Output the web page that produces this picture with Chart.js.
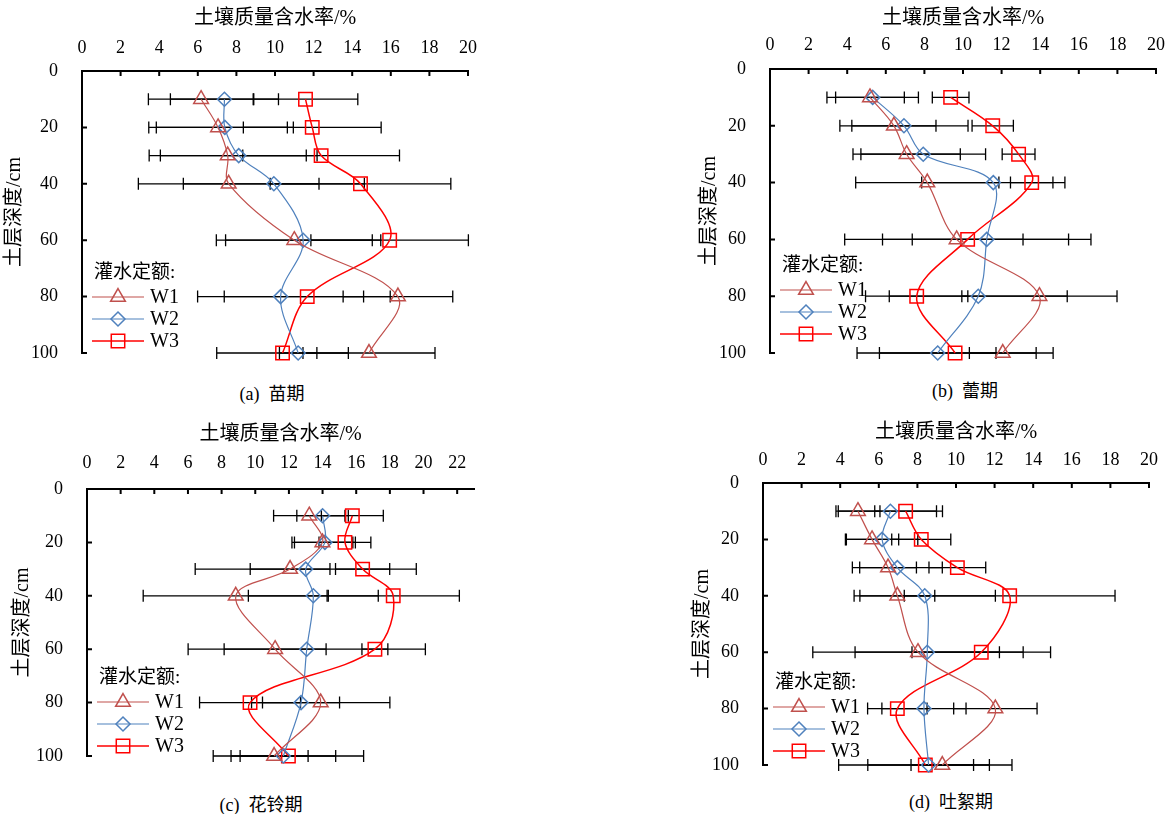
<!DOCTYPE html>
<html>
<head>
<meta charset="utf-8">
<script src="https://cdn.jsdelivr.net/npm/chart.js@4.4.1/dist/chart.umd.min.js"></script>
<style>
  body { margin: 0; background: #fff; }
  #page { position: relative; width: 1175px; height: 814px; overflow: hidden; }
  .box { position: absolute; }
  .cap { position: absolute; font-size: 18px; font-family: 'Liberation Serif', 'Noto Sans CJK SC'; transform: translate(-50%, -50%); white-space: nowrap; color: #000; }
</style>
</head>
<body>
<div id="page">
  <div class="box" style="left:0;top:0"><canvas id="cA"></canvas></div>
  <div class="box" style="left:690px;top:0"><canvas id="cB"></canvas></div>
  <div class="box" style="left:0;top:415px"><canvas id="cC"></canvas></div>
  <div class="box" style="left:685px;top:415px"><canvas id="cD"></canvas></div>
  <div class="cap" style="left:272px;top:392px">(a)&nbsp; 苗期</div>
  <div class="cap" style="left:965px;top:389px">(b)&nbsp; 蕾期</div>
  <div class="cap" style="left:261px;top:803px">(c)&nbsp; 花铃期</div>
  <div class="cap" style="left:951px;top:800px">(d)&nbsp; 吐絮期</div>
</div>
<script>
// 土层深度 (cm) 和刻度
const depth = [10, 20, 30, 40, 60, 80, 100];
const depthTicks = [0, 20, 40, 60, 80, 100];
const moistTicks20 = [0, 2, 4, 6, 8, 10, 12, 14, 16, 18, 20];
const moistTicks22 = [0, 2, 4, 6, 8, 10, 12, 14, 16, 18, 20, 22];
const seriesNames = ['W1', 'W2', 'W3'];

// (a) 苗期
const a_W1 = [6.17, 7.05, 7.55, 7.6, 11.0, 16.37, 14.87];
const a_W1_err = [2.73, 3.59, 4.07, 4.68, 4.04, 2.84, 3.42];
const a_W2 = [7.38, 7.4, 8.12, 9.94, 11.46, 10.29, 11.2];
const a_W2_err = [2.8, 3.55, 4.06, 4.69, 4.02, 4.3, 0.97];
const a_W3 = [11.58, 11.93, 12.39, 14.43, 15.94, 11.67, 10.39];
const a_W3_err = [2.71, 3.57, 4.06, 4.68, 4.08, 4.3, 3.41];

// (b) 蕾期
const b_W1 = [5.18, 6.42, 7.08, 8.15, 9.67, 13.96, 12.06];
const b_W1_err = [1.78, 2.18, 2.78, 3.71, 5.8, 4.02, 1.73];
const b_W2 = [5.32, 6.94, 7.94, 11.57, 11.23, 10.79, 8.69];
const b_W2_err = [2.37, 3.32, 3.23, 3.71, 5.4, 4.61, 3.02];
const b_W3 = [9.36, 11.54, 12.88, 13.56, 10.24, 7.6, 9.59];
const b_W3_err = [0.95, 1.07, 0.85, 1.1, 2.87, 2.65, 5.08];

// (c) 花铃期
const c_W1 = [13.21, 13.99, 12.07, 8.84, 11.18, 13.89, 11.12];
const c_W1_err = [2.12, 1.81, 2.37, 5.5, 3.03, 4.11, 2.02];
const c_W2 = [14.0, 14.14, 13.0, 13.45, 13.06, 12.72, 11.67];
const c_W2_err = [1.53, 1.81, 6.57, 3.86, 7.05, 2.29, 3.11];
const c_W3 = [15.77, 15.33, 16.38, 18.2, 17.11, 9.69, 11.97];
const c_W3_err = [1.84, 1.54, 1.61, 3.93, 0.77, 3.0, 4.47];

// (d) 吐絮期
const d_W1 = [4.92, 5.65, 6.48, 6.96, 8.03, 12.04, 9.29];
const d_W1_err = [1.14, 1.38, 1.47, 1.94, 5.45, 2.16, 1.62];
const d_W2 = [6.6, 6.17, 6.96, 8.38, 8.51, 8.34, 8.58];
const d_W2_err = [2.7, 1.85, 2.33, 3.66, 3.74, 2.18, 3.15];
const d_W3 = [7.39, 8.2, 10.07, 12.78, 11.31, 6.96, 8.41];
const d_W3_err = [1.6, 1.53, 1.47, 5.46, 3.59, 1.54, 4.49];

const styles = [
    { color: '#C0504D', point: 'triangle', r: 8.5, lw: 1.2 },
    { color: '#4F81BD', point: 'rectRot', r: 7, lw: 1.2 },
    { color: '#FF0000', point: 'rect', r: 9.5, lw: 1.5 }
];
const latin = "'Liberation Serif'";
const mixed = "'Liberation Serif', 'Noto Sans CJK SC'";

// 误差棒
const errorBars = {
    id: 'errorBars',
    beforeDatasetsDraw(chart) {
        const ctx = chart.ctx;
        const xs = chart.scales.x, ys = chart.scales.y;
        ctx.save();
        ctx.strokeStyle = '#000';
        ctx.lineWidth = 1.3;
        chart.data.datasets.forEach(ds => {
            ds.data.forEach((p, i) => {
                const e = ds.errors[i];
                const x1 = xs.getPixelForValue(p.x - e);
                const x2 = xs.getPixelForValue(p.x + e);
                const y = ys.getPixelForValue(p.y);
                ctx.beginPath();
                ctx.moveTo(x1, y); ctx.lineTo(x2, y);
                ctx.moveTo(x1, y - 6); ctx.lineTo(x1, y + 6);
                ctx.moveTo(x2, y - 6); ctx.lineTo(x2, y + 6);
                ctx.stroke();
            });
        });
        ctx.restore();
    }
};

// 内侧刻度线
const innerTicks = {
    id: 'innerTicks',
    afterDraw(chart) {
        const ctx = chart.ctx;
        const a = chart.chartArea;
        ctx.save();
        ctx.strokeStyle = '#000';
        ctx.lineWidth = 2;
        ctx.beginPath();
        chart.scales.x.ticks.forEach(t => {
            const x = chart.scales.x.getPixelForValue(t.value);
            ctx.moveTo(x, a.top); ctx.lineTo(x, a.top + 5);
        });
        chart.scales.y.ticks.forEach(t => {
            const y = chart.scales.y.getPixelForValue(t.value);
            ctx.moveTo(a.left, y); ctx.lineTo(a.left + 5, y);
        });
        ctx.stroke();
        ctx.restore();
    }
};

function marker(ctx, type, x, y, r) {
    ctx.beginPath();
    if (type === 'triangle') {
        ctx.moveTo(x, y - r);
        ctx.lineTo(x + r * 0.866, y + r / 2);
        ctx.lineTo(x - r * 0.866, y + r / 2);
        ctx.closePath();
    } else if (type === 'rectRot') {
        ctx.moveTo(x, y - r); ctx.lineTo(x + r, y);
        ctx.lineTo(x, y + r); ctx.lineTo(x - r, y);
        ctx.closePath();
    } else {
        const s = r * Math.SQRT1_2;
        ctx.rect(x - s, y - s, 2 * s, 2 * s);
    }
    ctx.stroke();
}

// 图例 (放在绘图区左下角)
const legendBox = {
    id: 'legendBox',
    afterDraw(chart, args, opts) {
        const ctx = chart.ctx;
        const a = chart.chartArea;
        const dy = opts.dy || 0;
        ctx.save();
        ctx.fillStyle = '#000';
        ctx.textBaseline = 'middle';
        ctx.font = "19px " + mixed;
        ctx.fillText('灌水定额:', a.left + 12, a.bottom - 80 + dy);
        [-56, -34, -12].forEach((off, i) => {
            const y = a.bottom + off + dy;
            const st = styles[i];
            ctx.strokeStyle = st.color;
            ctx.lineWidth = st.lw;
            ctx.beginPath();
            ctx.moveTo(a.left + 10, y); ctx.lineTo(a.left + 62, y);
            ctx.stroke();
            ctx.lineWidth = 1.5;
            marker(ctx, st.point, a.left + 36, y, st.r);
            ctx.fillStyle = '#000';
            ctx.font = "20px " + latin;
            ctx.fillText(seriesNames[i], a.left + 68, y + 1);
        });
        ctx.restore();
    }
};

function makePanel(id, box, area, xMax, xTicks, tickY, titleY, yTitleX, legendDy, sets) {
    const canvas = document.getElementById(id);
    canvas.width = box.w;
    canvas.height = box.h;
    const datasets = sets.map((s, i) => ({
        label: seriesNames[i],
        data: depth.map((d, k) => ({ x: s.v[k], y: d })),
        errors: s.e,
        showLine: true,
        tension: 0.35,
        borderColor: styles[i].color,
        borderWidth: styles[i].lw,
        pointStyle: styles[i].point,
        pointRadius: styles[i].r,
        pointBorderWidth: 1.5,
        pointBorderColor: styles[i].color,
        pointBackgroundColor: 'rgba(0,0,0,0)',
        clip: false
    }));
    return new Chart(canvas, {
        type: 'scatter',
        data: { datasets: datasets },
        options: {
            responsive: false,
            animation: false,
            events: [],
            layout: {
                autoPadding: false,
                padding: { left: 0, top: 0, right: box.x + box.w - area.r, bottom: box.y + box.h - area.b }
            },
            plugins: {
                legend: { display: false },
                tooltip: { enabled: false },
                legendBox: { dy: legendDy }
            },
            scales: {
                x: {
                    type: 'linear',
                    position: 'top',
                    min: 0,
                    max: xMax,
                    afterBuildTicks: s => { s.ticks = xTicks.map(v => ({ value: v })); },
                    afterFit: s => {
                        s.height = area.t - box.y;
                        s.paddingLeft = 0; s.paddingRight = 0;
                    },
                    grid: { display: false, drawTicks: false },
                    border: { display: true, color: '#000', width: 2 },
                    ticks: {
                        autoSkip: false, maxRotation: 0,
                        padding: area.t - tickY - 10.8,
                        color: '#000',
                        font: { family: latin, size: 18 }
                    },
                    title: {
                        display: true,
                        text: '土壤质量含水率/%',
                        color: '#000',
                        font: { family: mixed, size: 20 },
                        padding: { top: titleY - box.y - 11, bottom: 0 }
                    }
                },
                y: {
                    type: 'linear',
                    reverse: true,
                    min: 0,
                    max: 100,
                    afterBuildTicks: s => { s.ticks = depthTicks.map(v => ({ value: v })); },
                    afterFit: s => {
                        s.width = area.l - box.x;
                        s.paddingTop = 0; s.paddingBottom = 0;
                    },
                    grid: { display: false, drawTicks: false },
                    border: { display: true, color: '#000', width: 2 },
                    ticks: {
                        autoSkip: false,
                        padding: 24,
                        color: '#000',
                        font: { family: latin, size: 18 }
                    },
                    title: {
                        display: true,
                        text: '土层深度/cm',
                        color: '#000',
                        font: { family: mixed, size: 20 },
                        padding: { top: yTitleX - box.x - 9, bottom: 0 }
                    }
                }
            }
        },
        plugins: [errorBars, innerTicks, legendBox]
    });
}

makePanel('cA', { x: 0, y: 0, w: 587, h: 372 }, { l: 82, t: 71, r: 468, b: 353 }, 20, moistTicks20, 48, 18, 12, 0,
    [{ v: a_W1, e: a_W1_err }, { v: a_W2, e: a_W2_err }, { v: a_W3, e: a_W3_err }]);
makePanel('cB', { x: 690, y: 0, w: 485, h: 372 }, { l: 770, t: 69, r: 1156, b: 353 }, 20, moistTicks20, 45, 18, 707, -7,
    [{ v: b_W1, e: b_W1_err }, { v: b_W2, e: b_W2_err }, { v: b_W3, e: b_W3_err }]);
makePanel('cC', { x: 0, y: 415, w: 587, h: 372 }, { l: 87, t: 489, r: 474, b: 756 }, 23, moistTicks22, 463, 434, 20, 2,
    [{ v: c_W1, e: c_W1_err }, { v: c_W2, e: c_W2_err }, { v: c_W3, e: c_W3_err }]);
makePanel('cD', { x: 685, y: 415, w: 490, h: 372 }, { l: 763, t: 483, r: 1149, b: 765 }, 20, moistTicks20, 460, 432, 700, -2,
    [{ v: d_W1, e: d_W1_err }, { v: d_W2, e: d_W2_err }, { v: d_W3, e: d_W3_err }]);
</script>
</body>
</html>
